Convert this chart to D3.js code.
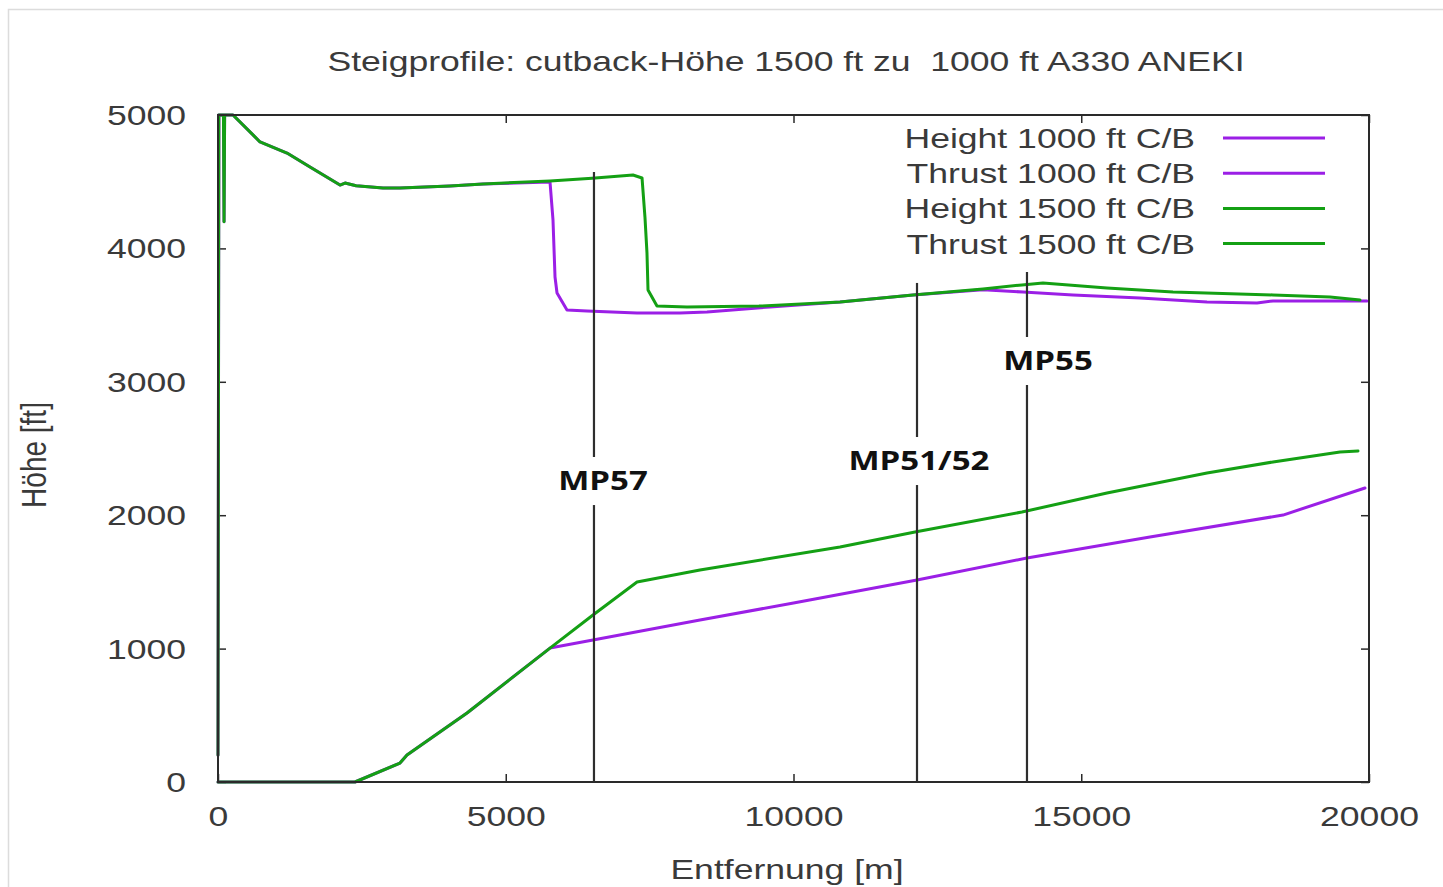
<!DOCTYPE html>
<html>
<head>
<meta charset="utf-8">
<script src="https://cdn.jsdelivr.net/npm/d3@7"></script>
<style>
  html, body { margin: 0; padding: 0; background: #fff; }
  svg { display: block; }
  text { font-family: "Liberation Sans", Arial, sans-serif; }
</style>
</head>
<body>
<svg id="chart" width="1443" height="887"></svg>
<script>
// ---- data ------------------------------------------------------------
const xTicks = [0, 5000, 10000, 15000, 20000];
const yTicks = [0, 1000, 2000, 3000, 4000, 5000];

const seriesNames = ["Height 1000 ft C/B", "Thrust 1000 ft C/B", "Height 1500 ft C/B", "Thrust 1500 ft C/B"];

// Thrust profile, cutback at 1500 ft (distance in m, value on the ft axis)
const thrust1500Dist = [0, 15, 95, 105, 115, 261, 730, 1199, 1599, 2120, 2207, 2400, 2867, 3162, 4031, 4605, 5769, 6500, 7211, 7368, 7419, 7454, 7472, 7628, 8149, 9400, 10808, 12077, 13293, 13970, 14335, 15447, 16594, 18332, 19322, 19843];
const thrust1500Ft   = [200, 5000, 5000, 4200, 5000, 5000, 4798, 4715, 4610, 4475, 4490, 4470, 4453, 4453, 4468, 4483, 4505, 4525, 4550, 4528, 4235, 3966, 3688, 3568, 3561, 3568, 3598, 3651, 3696, 3726, 3741, 3703, 3673, 3651, 3636, 3613];

// Thrust profile, cutback at 1000 ft
const thrust1000Dist = [0, 15, 95, 105, 115, 261, 730, 1199, 1599, 2120, 2207, 2400, 2867, 3162, 4031, 4605, 5769, 5821, 5856, 5891, 6064, 6412, 7280, 8028, 8497, 9592, 10808, 12077, 13293, 13988, 14857, 16021, 17185, 18054, 18332, 19965];
const thrust1000Ft   = [200, 5000, 5000, 4200, 5000, 5000, 4798, 4715, 4610, 4475, 4490, 4470, 4453, 4453, 4468, 4483, 4498, 4213, 3786, 3666, 3538, 3531, 3516, 3516, 3523, 3561, 3598, 3651, 3690, 3673, 3651, 3628, 3598, 3591, 3606, 3606];

// Height profile, cutback at 1500 ft
const height1500Dist = [0, 2380, 3162, 3284, 4327, 5769, 6516, 7281, 8375, 10808, 12111, 13970, 15447, 17185, 18332, 19496, 19809];
const height1500Ft   = [0, 0, 142, 202, 517, 1004, 1252, 1499, 1589, 1762, 1874, 2024, 2166, 2316, 2399, 2474, 2481];

// Height profile, cutback at 1000 ft
const height1000Dist = [0, 2380, 3162, 3284, 4327, 5769, 6516, 8375, 10000, 12146, 14057, 16194, 18506, 19930];
const height1000Ft   = [0, 0, 142, 202, 517, 1004, 1064, 1214, 1342, 1514, 1679, 1837, 2001, 2204];

// Measuring points along the track
const markerNames  = ["MP57", "MP51/52", "MP55"];
const markerDist   = [6533, 12146, 14057];
const markerTopFt  = [4573, 3741, 3823];
const markerLabelDist = [6690, 12180, 14422];
const markerLabelFt   = [2256, 2406, 3156];

// ---- layout ----------------------------------------------------------
const svg = d3.select("#chart");
const plot = { left: 218, right: 1369, top: 115, bottom: 782 };
const SX = 1.27;            // horizontal stretch of the lettering
const textColor = "#3a3a3a";
const frameColor = "#2a2a2a";
const purple = "#9b1fe6";
const green = "#14a014";

const x = d3.scaleLinear().domain([0, 20000]).range([plot.left, plot.right]);
const y = d3.scaleLinear().domain([0, 5000]).range([plot.bottom, plot.top]);

// outer picture border
svg.append("rect")
  .attr("x", 8.5).attr("y", 9.5).attr("width", 1445).attr("height", 890)
  .attr("fill", "none").attr("stroke", "#dcdcdc").attr("stroke-width", 1.5);

function label(parent, px, py, txt, opts = {}) {
  const t = parent.append("text")
    .attr("transform", `translate(${px},${py}) scale(${SX},1)` + (opts.rotate ? ` rotate(${opts.rotate})` : ""))
    .attr("text-anchor", opts.anchor || "middle")
    .attr("font-size", opts.size || 28)
    .attr("fill", opts.fill || textColor)
    .text(txt);
  if (opts.family) t.style("font-family", opts.family);
  if (opts.weight) t.attr("font-weight", opts.weight);
  if (opts.spacing) t.attr("letter-spacing", opts.spacing);
  return t;
}

// title
label(svg, 786, 71, "Steigprofile: cutback-Höhe 1500 ft zu  1000 ft A330 ANEKI").style("white-space", "pre");

// ---- axes ------------------------------------------------------------
function styleAxis(g) {
  g.select(".domain").remove();
  g.selectAll(".tick line").attr("stroke", frameColor).attr("stroke-width", 1.5);
  g.selectAll("text").attr("fill", textColor).attr("font-size", 28)
    .style("font-family", '"Liberation Sans", Arial, sans-serif');
}

svg.append("g").attr("transform", `translate(0,${plot.bottom})`)
  .call(d3.axisBottom(x).tickValues(xTicks).tickSize(-8).tickPadding(24).tickFormat(d3.format("d")))
  .call(styleAxis)
  .call(g => g.selectAll("text").attr("transform", `scale(${SX},1)`));

svg.append("g").attr("transform", `translate(0,${plot.top})`)
  .call(d3.axisTop(x).tickValues(xTicks).tickSize(-8).tickFormat(""))
  .call(styleAxis);

svg.append("g").attr("transform", `translate(${plot.left},0)`)
  .call(d3.axisLeft(y).tickValues(yTicks).tickSize(-8).tickPadding(25.2).tickFormat(d3.format("d")))
  .call(styleAxis)
  .call(g => g.selectAll("text").attr("transform", `scale(${SX},1)`).attr("dy", "0.34em"));

svg.append("g").attr("transform", `translate(${plot.right},0)`)
  .call(d3.axisRight(y).tickValues(yTicks).tickSize(-8).tickFormat(""))
  .call(styleAxis);

// axis titles
label(svg, 787, 879, "Entfernung [m]");
label(svg, 46, 455, "Höhe [ft]", { rotate: -90 });

// ---- curves ----------------------------------------------------------
const line = d3.line().x(d => x(d[0])).y(d => y(d[1]));
const zip = (a, b) => a.map((v, i) => [v, b[i]]);

const curves = [
  { dist: height1000Dist, ft: height1000Ft, color: purple },
  { dist: thrust1000Dist, ft: thrust1000Ft, color: purple },
  { dist: height1500Dist, ft: height1500Ft, color: green },
  { dist: thrust1500Dist, ft: thrust1500Ft, color: green }
];

svg.append("g").selectAll("path").data(curves).join("path")
  .attr("d", c => line(zip(c.dist, c.ft)))
  .attr("fill", "none")
  .attr("stroke", c => c.color)
  .attr("stroke-width", 3)
  .attr("stroke-linejoin", "round")
  .attr("stroke-linecap", "round");

// frame
svg.append("rect")
  .attr("x", plot.left).attr("y", plot.top)
  .attr("width", plot.right - plot.left).attr("height", plot.bottom - plot.top)
  .attr("fill", "none").attr("stroke", frameColor).attr("stroke-width", 2);

// ---- measuring points ------------------------------------------------
const gap = 24;
const mp = svg.append("g");
markerNames.forEach((name, i) => {
  const mx = x(markerDist[i]);
  const ly = y(markerLabelFt[i]);
  mp.append("line")
    .attr("x1", mx).attr("x2", mx).attr("y1", y(markerTopFt[i])).attr("y2", ly - gap)
    .attr("stroke", "#2e2e2e").attr("stroke-width", 2.2);
  mp.append("line")
    .attr("x1", mx).attr("x2", mx).attr("y1", ly + gap).attr("y2", plot.bottom)
    .attr("stroke", "#2e2e2e").attr("stroke-width", 2.2);
});
markerNames.forEach((name, i) => {
  const lx = x(markerLabelDist[i]);
  const ly = y(markerLabelFt[i]);
  const t = label(mp, lx, ly + 9, name, { size: 26, weight: "bold", fill: "#111", family: '"Open Sans", sans-serif' });
  const w = t.node().getBBox().width * SX;
  mp.insert("rect", "text")
    .attr("x", lx - w / 2 - 8).attr("y", ly - gap)
    .attr("width", w + 16).attr("height", gap * 2)
    .attr("fill", "#fff").attr("opacity", 0.8);
});

// ---- legend ----------------------------------------------------------
const legendColors = [purple, purple, green, green];
const legend = svg.append("g");
seriesNames.forEach((name, i) => {
  const cy = 138 + i * 35.2;
  label(legend, 1195, cy + 10, name, { anchor: "end" });
  legend.append("line")
    .attr("x1", 1223).attr("x2", 1325).attr("y1", cy).attr("y2", cy)
    .attr("stroke", legendColors[i]).attr("stroke-width", 3);
});
</script>
</body>
</html>
